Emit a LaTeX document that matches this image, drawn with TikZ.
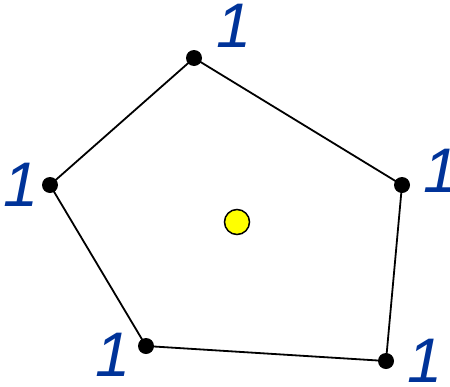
\documentclass[tikz,border=0pt]{standalone}
\usepackage{fontspec}
\setmainfont{Liberation Sans}
\definecolor{lblblue}{RGB}{0,51,153}
\definecolor{dotyellow}{RGB}{255,255,0}
\begin{document}
\begin{tikzpicture}[x=1pt,y=-1pt,
  vtx/.style={circle,fill=black,inner sep=0pt,minimum size=16pt},
  edge/.style={line width=1.8pt},
  lbl/.style={text=lblblue,font=\fontsize{63}{63}\selectfont\itshape,inner sep=0pt,anchor=center},
  cen/.style={circle,draw=black,fill=dotyellow,line width=1.5pt,inner sep=0pt,minimum size=25pt}]
\useasboundingbox (0,0) rectangle (450,386);
\coordinate (A) at (194,58);
\coordinate (B) at (402,185);
\coordinate (C) at (386,361);
\coordinate (D) at (146,346);
\coordinate (E) at (50,185);
\draw[edge] (A) -- (B) -- (C) -- (D) -- (E) -- cycle;
\foreach \p in {A,B,C,D,E} \node[vtx] (v\p) at (\p) {};
\node[cen] (ctr) at (237,222) {};
\node[lbl] (lA) at (234,26) {1};
\node[lbl] (lB) at (441,171) {1};
\node[lbl] (lC) at (425,361) {1};
\node[lbl] (lD) at (113,355) {1};
\node[lbl] (lE) at (21,185) {1};
\end{tikzpicture}
\end{document}
